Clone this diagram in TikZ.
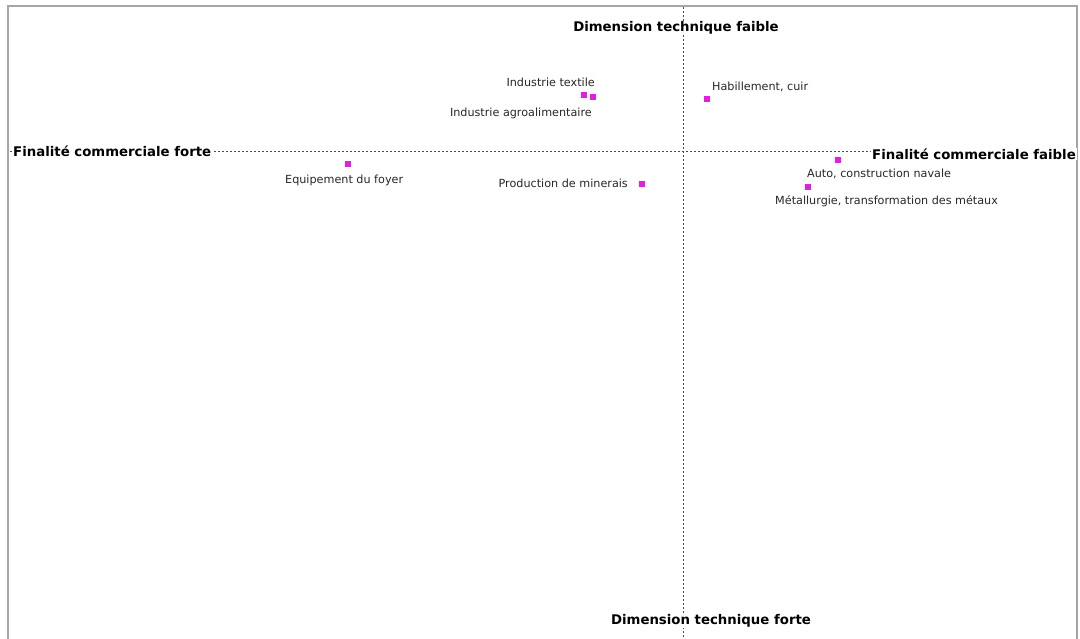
\documentclass[tikz,border=0pt]{standalone}
\usepackage{fontspec}
\setmainfont{DejaVu Sans}
\usetikzlibrary{positioning}
\definecolor{mapPoint}{RGB}{225,30,225}
\begin{document}
\begin{tikzpicture}[x=1pt, y=-1pt]
% Positionnement des secteurs (axes en pixels)
\def\axisx{683}
\def\axisy{151}
\providecommand{\mapFrameColor}{black!35}
\providecommand{\mapAxisColor}{black!70}
\tikzset{
  axislabel/.style={font=\bfseries\fontsize{13.3}{15}\selectfont, fill=white, inner sep=1pt},
  sectorlabel/.style={font=\fontsize{11.2}{13}\selectfont, inner sep=0pt, text=black!85},
  sectorpt/.style={rectangle, fill=mapPoint, minimum size=6pt, inner sep=0pt},
}
\useasboundingbox (0,0) rectangle (1080,639);
% Cadre
\begin{scope}[draw=\mapFrameColor, line width=1.6pt]
  \draw (8,639) -- (8,6) -- (1077,6) -- (1077,639);
\end{scope}
% Axes
\begin{scope}[draw=\mapAxisColor, line width=0.5pt, dash pattern=on 2pt off 2pt]
  \draw (10,\axisy) -- (1076,\axisy);
  \draw (\axisx,7) -- (\axisx,639);
\end{scope}
% Libelles des axes
\node[axislabel] (tfaible) at (676,28) {Dimension technique faible};
\node[axislabel] (tforte) at (711,621) {Dimension technique forte};
\node[axislabel, anchor=west] (cforte) at (12,151) {Finalité commerciale forte};
\node[axislabel, anchor=east] (cfaible) at (1077,154) {Finalité commerciale faible};
% Secteurs
\node[sectorpt] (textile) at (584,95) {};
\node[sectorpt] (agro) at (593,97) {};
\node[sectorpt] (habil) at (707,99) {};
\node[sectorpt] (foyer) at (348,164) {};
\node[sectorpt] (minerais) at (642,184) {};
\node[sectorpt] (auto) at (838,160) {};
\node[sectorpt] (metal) at (808,187) {};
\node[sectorlabel, anchor=east] (textilelbl) at (595,82) {Industrie textile};
\node[sectorlabel, anchor=east] (agrolbl) at (592,113) {Industrie agroalimentaire};
\node[sectorlabel, anchor=west] (habillbl) at (712,87) {Habillement, cuir};
\node[sectorlabel, anchor=west] (foyerlbl) at (285,180) {Equipement du foyer};
\node[sectorlabel, anchor=east] (mineraislbl) at (628,183) {Production de minerais};
\node[sectorlabel, anchor=west] (autolbl) at (807,174) {Auto, construction navale};
\node[sectorlabel, anchor=west] (metallbl) at (775,201) {Métallurgie, transformation des métaux};
\end{tikzpicture}
\end{document}
